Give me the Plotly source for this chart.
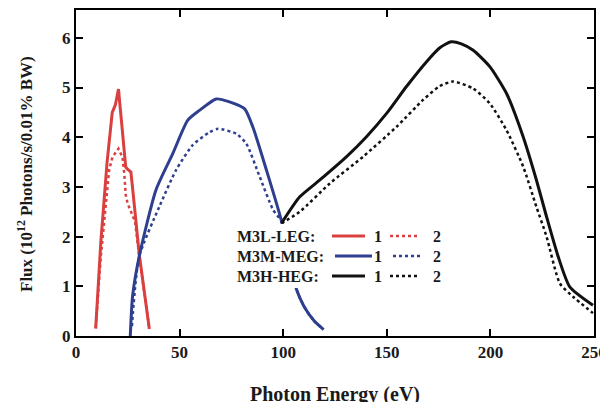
import plotly.graph_objects as go

# M3L-LEG
leg1_E = [9.5, 12, 15, 17.5, 19, 20.5, 22, 24, 25, 26.5, 27.5, 30.5, 35.4]
leg1_F = [0.15, 1.9, 3.5, 4.5, 4.65, 4.97, 4.3, 3.4, 3.35, 3.3, 2.9, 1.65, 0.14]
leg2_E = [9.5, 12, 16, 17.6, 20.5, 22.4, 23.3, 24, 24.9, 28.5, 30.5, 35.4]
leg2_F = [0.17, 1.6, 3.34, 3.6, 3.77, 3.6, 3.27, 2.84, 2.67, 2.3, 1.62, 0.14]
# M3M-MEG
meg1_E = [26.2, 27.3, 30.5, 38.6, 46.7, 53.9, 59.6, 67.7, 74.1, 81.4, 85.4, 91.9, 99.2, 106.4, 110, 115, 119.5]
meg1_F = [0.0, 0.8, 1.6, 2.94, 3.67, 4.34, 4.54, 4.77, 4.71, 4.57, 4.2, 3.34, 2.31, 0.94, 0.6, 0.3, 0.13]
meg2_E = [27, 30.5, 40.2, 48.3, 56.3, 64.4, 68.5, 77.4, 82.2, 88.7, 95.1, 99.2, 106.4, 110, 115, 119.5]
meg2_F = [0.2, 1.6, 2.6, 3.34, 3.84, 4.1, 4.17, 4.07, 3.87, 3.2, 2.54, 2.3, 0.94, 0.6, 0.3, 0.13]
# M3H-HEG
heg1_E = [99.2, 108, 117.7, 130.6, 140.2, 149.9, 159.5, 169.2, 175.6, 181, 186, 191.7, 199.7, 207.8, 215.8,
          222.2, 227.1, 232.7, 238.3, 249.5]
heg1_F = [2.27, 2.8, 3.14, 3.61, 4.01, 4.48, 5.02, 5.52, 5.8, 5.92, 5.88, 5.75, 5.42, 4.88, 4.01,
          3.14, 2.4, 1.6, 0.99, 0.62]
heg2_E = [99.2, 108, 122.5, 138.6, 154.7, 167.5, 175.6, 182, 191.7, 199.7, 207.8, 215.8, 222.2, 227.1,
          233.5, 239.9, 249.5]
heg2_F = [2.27, 2.5, 3.07, 3.61, 4.21, 4.75, 5.03, 5.12, 4.98, 4.68, 4.14, 3.41, 2.6, 2.0,
          1.06, 0.79, 0.46]

x_ticks = [0, 50, 100, 150, 200, 250]
y_ticks = [0, 1, 2, 3, 4, 5, 6]

RED = "#d9403f"
BLUE = "#2f3f8f"
BLACK = "#111111"

fig = go.Figure()
def add(x, y, color, dash, width, shape="linear", smoothing=0.6):
    fig.add_trace(go.Scatter(x=x, y=y, mode="lines", showlegend=False,
                             line=dict(color=color, dash=dash, width=width, shape=shape, smoothing=smoothing)))

add(leg1_E, leg1_F, RED, "solid", 3)
add(leg2_E, leg2_F, RED, "dot", 2.5)
add(meg2_E, meg2_F, BLUE, "dot", 2.5, "spline")
add(meg1_E, meg1_F, BLUE, "solid", 3, "spline")
add(heg2_E, heg2_F, BLACK, "dot", 2.5, "spline", 0.6)
add(heg1_E, heg1_F, BLACK, "solid", 3, "spline", 0.6)

# page body has an 8px margin; figure sized so that the plot lands where the reference has it
OFF = 8
W, H = 608 - OFF, 402 - OFF
L, R, T, B = 76 - OFF, 14, 10 - OFF, 66
pw, ph = W - L - R, H - T - B
def px(x):
    return (x - OFF - L) / pw
def py(y):
    return (H - B - (y - OFF)) / ph

font = "Liberation Serif"
TXT = "#1a1a1a"
shapes = [dict(type="rect", xref="paper", yref="paper", x0=px(226), x1=px(446), y0=py(288), y1=py(224),
               fillcolor="white", line=dict(width=0), layer="above")]
annotations = []
rows = [("M3L-LEG:", RED, 236, 332, 365, 390, 420),
        ("M3M-MEG:", BLUE, 256, 335, 372, 393, 423),
        ("M3H-HEG:", BLACK, 276, 332, 365, 390, 420)]
for label, col, yc, s0, s1, d0, d1 in rows:
    annotations.append(dict(text="<b>" + label + "</b>", xref="paper", yref="paper", x=px(236), y=py(yc),
                            xanchor="left", yanchor="middle", showarrow=False, borderpad=0,
                            font=dict(family=font, size=16, color=TXT)))
    shapes.append(dict(type="line", xref="paper", yref="paper", x0=px(s0), x1=px(s1), y0=py(yc), y1=py(yc),
                       line=dict(color=col, width=3), layer="above"))
    shapes.append(dict(type="line", xref="paper", yref="paper", x0=px(d0), x1=px(d1), y0=py(yc), y1=py(yc),
                       line=dict(color=col, width=2.5, dash="dot"), layer="above"))
    for num, xx in (("1", 378), ("2", 437)):
        annotations.append(dict(text="<b>" + num + "</b>", xref="paper", yref="paper", x=px(xx), y=py(yc),
                                xanchor="center", yanchor="middle", showarrow=False,
                                font=dict(family=font, size=16, color=TXT)))

annotations.append(dict(text="<b>Photon Energy (eV)</b>", xref="paper", yref="paper", x=px(335), y=py(394),
                        xanchor="center", yanchor="middle", showarrow=False,
                        font=dict(family=font, size=20, color=TXT)))
annotations.append(dict(text="<b>Flux (10<sup>12</sup> Photons/s/0.01% BW)</b>", xref="paper", yref="paper",
                        x=px(25), y=py(174), xanchor="center", yanchor="middle", textangle=-90, showarrow=False,
                        font=dict(family=font, size=17, color=TXT)))

axis_common = dict(showgrid=False, zeroline=False, showline=True, linecolor="black", linewidth=2,
                   mirror="ticks", ticks="inside", ticklen=7, tickwidth=2, tickcolor="black",
                   ticklabeloverflow="allow",
                   tickfont=dict(family=font, size=17, color=TXT))
fig.update_layout(
    width=W, height=H, margin=dict(l=L, r=R, t=T, b=B, autoexpand=False),
    paper_bgcolor="white", plot_bgcolor="white",
    xaxis=dict(range=[0, 250], tickvals=x_ticks, ticktext=[f"<b>{v}</b>" for v in x_ticks], **axis_common),
    yaxis=dict(range=[0, 6.56], tickvals=y_ticks, ticktext=[f"<b>{v}</b>" for v in y_ticks], **axis_common),
    shapes=shapes, annotations=annotations,
)
fig.write_html("out.html")
